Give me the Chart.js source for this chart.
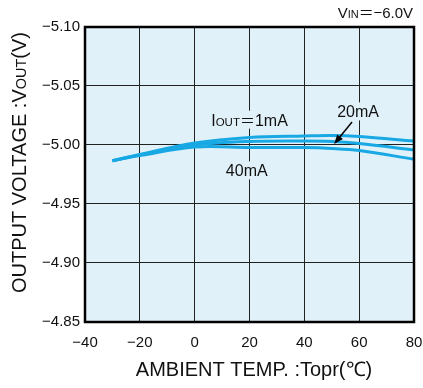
<!DOCTYPE html>
<html>
<head>
<meta charset="utf-8">
<script src="https://cdn.jsdelivr.net/npm/chart.js@4.4.1/dist/chart.umd.min.js"></script>
<style>
html,body{margin:0;padding:0;background:#fff;}
#wrap{width:423px;height:388px;}
</style>
</head>
<body>
<div id="wrap"><canvas id="vc" width="423" height="388"></canvas></div>
<script>
// Vout vs ambient temperature, three load currents
const TEMPS=[-30,-20,0,20,40,50,60,80];
const V_1MA=[-4.9867,-4.9920,-5.0017,-5.0064,-5.0077,-5.0081,-5.0072,-5.0034];
const V_20MA=[-4.9867,-4.9916,-5.0000,-5.0030,-5.0034,-5.0030,-5.0013,-4.9958];
const V_40MA=[-4.9867,-4.9911,-4.9983,-4.9979,-4.9978,-4.9971,-4.9954,-4.9879];
const X_MIN=-40,X_MAX=80,X_STEP=20;
const Y_MIN=-5.10,Y_MAX=-4.85,Y_STEP=0.05;

const LINE='#18a8e4';
const PLOT_BG='#e0f1f9';
const FONT='"Liberation Sans", Arial, Helvetica, sans-serif';
const CJK='"Noto Sans CJK JP", sans-serif';

const minus=v=>v<0?'\u2212'+Math.abs(v):String(v);

// draw text runs (different sizes on one baseline); run = [text, size, family?]
function setFont(ctx,r){ctx.font=r[1]+'px '+(r[2]||FONT);}
function runsWidth(ctx,runs){
  let w=0;
  runs.forEach(r=>{setFont(ctx,r);w+=ctx.measureText(r[0]).width;});
  return w;
}
function drawRuns(ctx,runs,x,y,align){
  const w=runsWidth(ctx,runs);
  let cx=align==='center'?x-w/2:align==='right'?x-w:x;
  ctx.textAlign='left';ctx.textBaseline='alphabetic';
  runs.forEach(r=>{setFont(ctx,r);ctx.fillText(r[0],cx,y);cx+=ctx.measureText(r[0]).width;});
  return w;
}

const plotDeco={
  id:'plotDeco',
  beforeDraw(chart){
    const {ctx,chartArea:a}=chart;
    ctx.save();ctx.fillStyle=PLOT_BG;ctx.fillRect(a.left,a.top,a.right-a.left,a.bottom-a.top);ctx.restore();
  },
  beforeDatasetsDraw(chart){
    // curve labels with a backing box over the grid
    const {ctx,scales:{x,y}}=chart;
    const labels=[
      {runs:[['I',16],['OUT',11.5],['\uFF1D',15,CJK],['1mA',16]],t:20,v:-5.0215},
      {runs:[['40mA',16]],t:19,v:-4.9785},
      {runs:[['20mA',16]],t:59.6,v:-5.0285}
    ];
    ctx.save();
    labels.forEach(l=>{
      const px=x.getPixelForValue(l.t),py=y.getPixelForValue(l.v);
      const w=runsWidth(ctx,l.runs);
      ctx.fillStyle=PLOT_BG;ctx.fillRect(px-w/2-2,py-9,w+4,18);
      ctx.fillStyle='#111';drawRuns(ctx,l.runs,px,py+6,'center');
    });
    ctx.restore();
  },
  afterDatasetsDraw(chart){
    const {ctx,chartArea:a,scales:{x,y}}=chart;
    ctx.save();
    // arrow to the 20mA curve
    const x0=x.getPixelForValue(57.4),y0=y.getPixelForValue(-5.0195);
    const x1=x.getPixelForValue(50.9),y1=y.getPixelForValue(-5.0009);
    const ang=Math.atan2(y1-y0,x1-x0);
    ctx.strokeStyle='#000';ctx.fillStyle='#000';ctx.lineWidth=1.5;
    ctx.beginPath();ctx.moveTo(x0,y0);ctx.lineTo(x1-Math.cos(ang)*6,y1-Math.sin(ang)*6);ctx.stroke();
    ctx.beginPath();ctx.moveTo(x1,y1);
    ctx.lineTo(x1-Math.cos(ang-0.38)*10,y1-Math.sin(ang-0.38)*10);
    ctx.lineTo(x1-Math.cos(ang+0.38)*10,y1-Math.sin(ang+0.38)*10);
    ctx.closePath();ctx.fill();
    // frame
    ctx.lineWidth=2.5;ctx.strokeStyle='#000';
    ctx.strokeRect(a.left,a.top,a.right-a.left,a.bottom-a.top);
    ctx.restore();
  },
  afterDraw(chart){
    const {ctx}=chart;
    ctx.save();ctx.fillStyle='#111';
    drawRuns(ctx,[['V',15],['IN',11],['\uFF1D\u2212',15,CJK],['6.0V',15]],413,18,'right');
    drawRuns(ctx,[['AMBIENT TEMP. :Topr(\u2103)',20]],254,376,'center');
    ctx.translate(26,162.5);ctx.rotate(-Math.PI/2);
    drawRuns(ctx,[['OUTPUT VOLTAGE :V',20],['OUT',14.5],['(V)',20]],0,0,'center');
    ctx.restore();
  }
};

const ds=(label,data)=>({label,data:TEMPS.map((t,i)=>({x:t,y:data[i]})),borderColor:LINE,borderWidth:3,
  pointRadius:0,tension:0.35,fill:false,clip:0});

new Chart(document.getElementById('vc').getContext('2d'),{
  type:'line',
  data:{datasets:[ds('1mA',V_1MA),ds('20mA',V_20MA),ds('40mA',V_40MA)]},
  options:{
    responsive:false,animation:false,
    layout:{padding:{top:27,right:9,left:0,bottom:0}},
    plugins:{legend:{display:false},tooltip:{enabled:false}},
    scales:{
      x:{type:'linear',min:X_MIN,max:X_MAX,
        afterFit:s=>{s.height=66;s.paddingLeft=0;s.paddingRight=0;},
        afterBuildTicks:s=>{s.ticks=[];for(let v=X_MIN;v<=X_MAX;v+=X_STEP)s.ticks.push({value:v});},
        grid:{color:'#222',lineWidth:1,drawTicks:false},border:{display:false},
        ticks:{color:'#111',padding:12,maxRotation:0,font:{family:FONT,size:15},callback:v=>minus(v)}},
      y:{type:'linear',min:Y_MIN,max:Y_MAX,reverse:true,
        afterFit:s=>{s.width=85;s.paddingTop=0;s.paddingBottom=0;},
        afterBuildTicks:s=>{s.ticks=[];for(let i=0;i<=5;i++)s.ticks.push({value:+(Y_MIN+i*Y_STEP).toFixed(2)});},
        grid:{color:'#222',lineWidth:1,drawTicks:false},border:{display:false},
        ticks:{color:'#111',padding:5,font:{family:FONT,size:15},callback:v=>'\u2212'+Math.abs(v).toFixed(2)}}
    }
  },
  plugins:[plotDeco]
});
</script>
</body>
</html>
